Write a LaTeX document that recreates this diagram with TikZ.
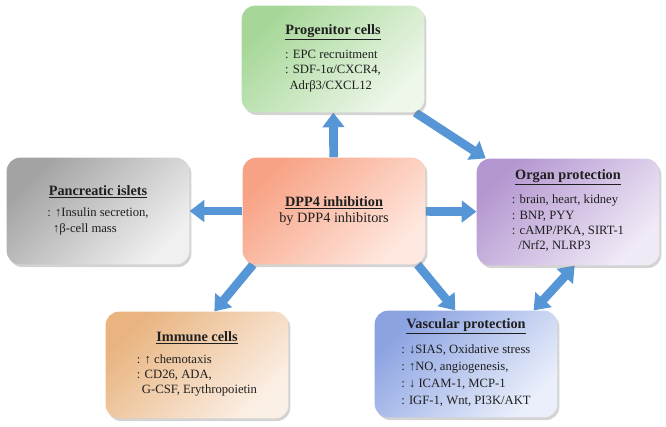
\documentclass[tikz,border=0pt]{standalone}
\usepackage{fontspec}
\setmainfont{Liberation Serif}
\usetikzlibrary{arrows.meta,shadows,backgrounds}

\definecolor{arrowblue}{RGB}{86,150,214}
\definecolor{progA}{HTML}{A6D798}
\definecolor{progB}{HTML}{EEF7EA}
\definecolor{organA}{HTML}{B497D0}
\definecolor{organB}{HTML}{F0EAF7}
\definecolor{vascA}{HTML}{8CA3E2}
\definecolor{vascB}{HTML}{EAEFFB}
\definecolor{immA}{HTML}{E9B480}
\definecolor{immB}{HTML}{FBF0E6}
\definecolor{pancA}{HTML}{A3A3A3}
\definecolor{pancB}{HTML}{F0F0F0}
\definecolor{dppA}{HTML}{F8A285}
\definecolor{dppB}{HTML}{FEE8DF}

\newcommand{\heading}[1]{{\fontsize{10.7}{13}\selectfont\bfseries\underline{#1}}}

\begin{document}
\begin{tikzpicture}[x=0.75pt, y=-0.75pt,
    card/.style={rounded corners=10pt, minimum width=137pt, minimum height=80pt,
                 align=center, text=black!88, font=\fontsize{9.5}{11.5}\selectfont,
                 drop shadow={shadow xshift=1.5pt, shadow yshift=-2pt, opacity=0.35}},
    tint/.style 2 args={top color=#1, bottom color=#2, shading angle=45},
    arr/.style={-{Triangle[width=16pt,length=11pt]}, line width=6.5pt, draw=arrowblue},
    arrs/.style={{Triangle[width=16pt,length=11pt]}-{Triangle[width=16pt,length=11pt]},
                 line width=6.5pt, draw=arrowblue}
]
    \useasboundingbox (0,0) rectangle (666,426);

    % centre: the inhibitor and the five fields it acts on
    \node[card, tint={dppA}{dppB}] (dpp) at (334,211)
        {\heading{DPP4 inhibition}\\{\fontsize{10.7}{13}\selectfont by DPP4 inhibitors}};
    \node[card, tint={progA}{progB}] (prog) at (333,59)
        {\heading{Progenitor cells}\\[5pt]
         \begin{tabular}{@{}l@{}}: EPC recruitment\\: SDF-1α/CXCR4,\\\hspace{0.35em}Adrβ3/CXCL12\end{tabular}};
    \node[card, tint={organA}{organB}] (organ) at (568,212)
        {\heading{Organ protection}\\[5pt]
         \begin{tabular}{@{}l@{}}: brain, heart, kidney\\: BNP, PYY\\: cAMP/PKA, SIRT-1\\\hspace{0.5em}/Nrf2, NLRP3\end{tabular}};
    \node[card, tint={vascA}{vascB}] (vasc) at (466,364)
        {\heading{Vascular protection}\\[5pt]
         \renewcommand{\arraystretch}{1.1}%
         \begin{tabular}{@{}l@{}}: ↓SIAS, Oxidative stress\\: ↑NO, angiogenesis,\\: ↓ ICAM-1, MCP-1\\: IGF-1, Wnt, PI3K/AKT\end{tabular}};
    \node[card, tint={immA}{immB}] (imm) at (197,365)
        {\heading{Immune cells}\\[5pt]
         \begin{tabular}{@{}l@{}}: ↑ chemotaxis\\: CD26, ADA,\\\hspace{0.4em}G-CSF, Erythropoietin\end{tabular}};
    \node[card, tint={pancA}{pancB}] (panc) at (98,211)
        {\heading{Pancreatic islets}\\[5pt]
         \begin{tabular}{@{}l@{}}: ↑Insulin secretion,\\\hspace{0.45em}↑β-cell mass\end{tabular}};

    % arrows sit behind the boxes
    \begin{scope}[on background layer]
        \draw[arr] (dpp) -- (prog);
        \draw[arr] (prog) -- (organ);
        \draw[arr] (dpp) -- (organ);
        \draw[arr] (dpp) -- (panc);
        \draw[arr] ([xshift=8pt]dpp.south west) -- ([xshift=13pt]imm.north);
        \draw[arr] ([xshift=-6pt]dpp.south east) -- ([xshift=-8pt]vasc.north);
        \draw[arrs] ([xshift=-18pt]vasc.north east) -- ([xshift=5pt]organ.south);
    \end{scope}
\end{tikzpicture}
\end{document}
